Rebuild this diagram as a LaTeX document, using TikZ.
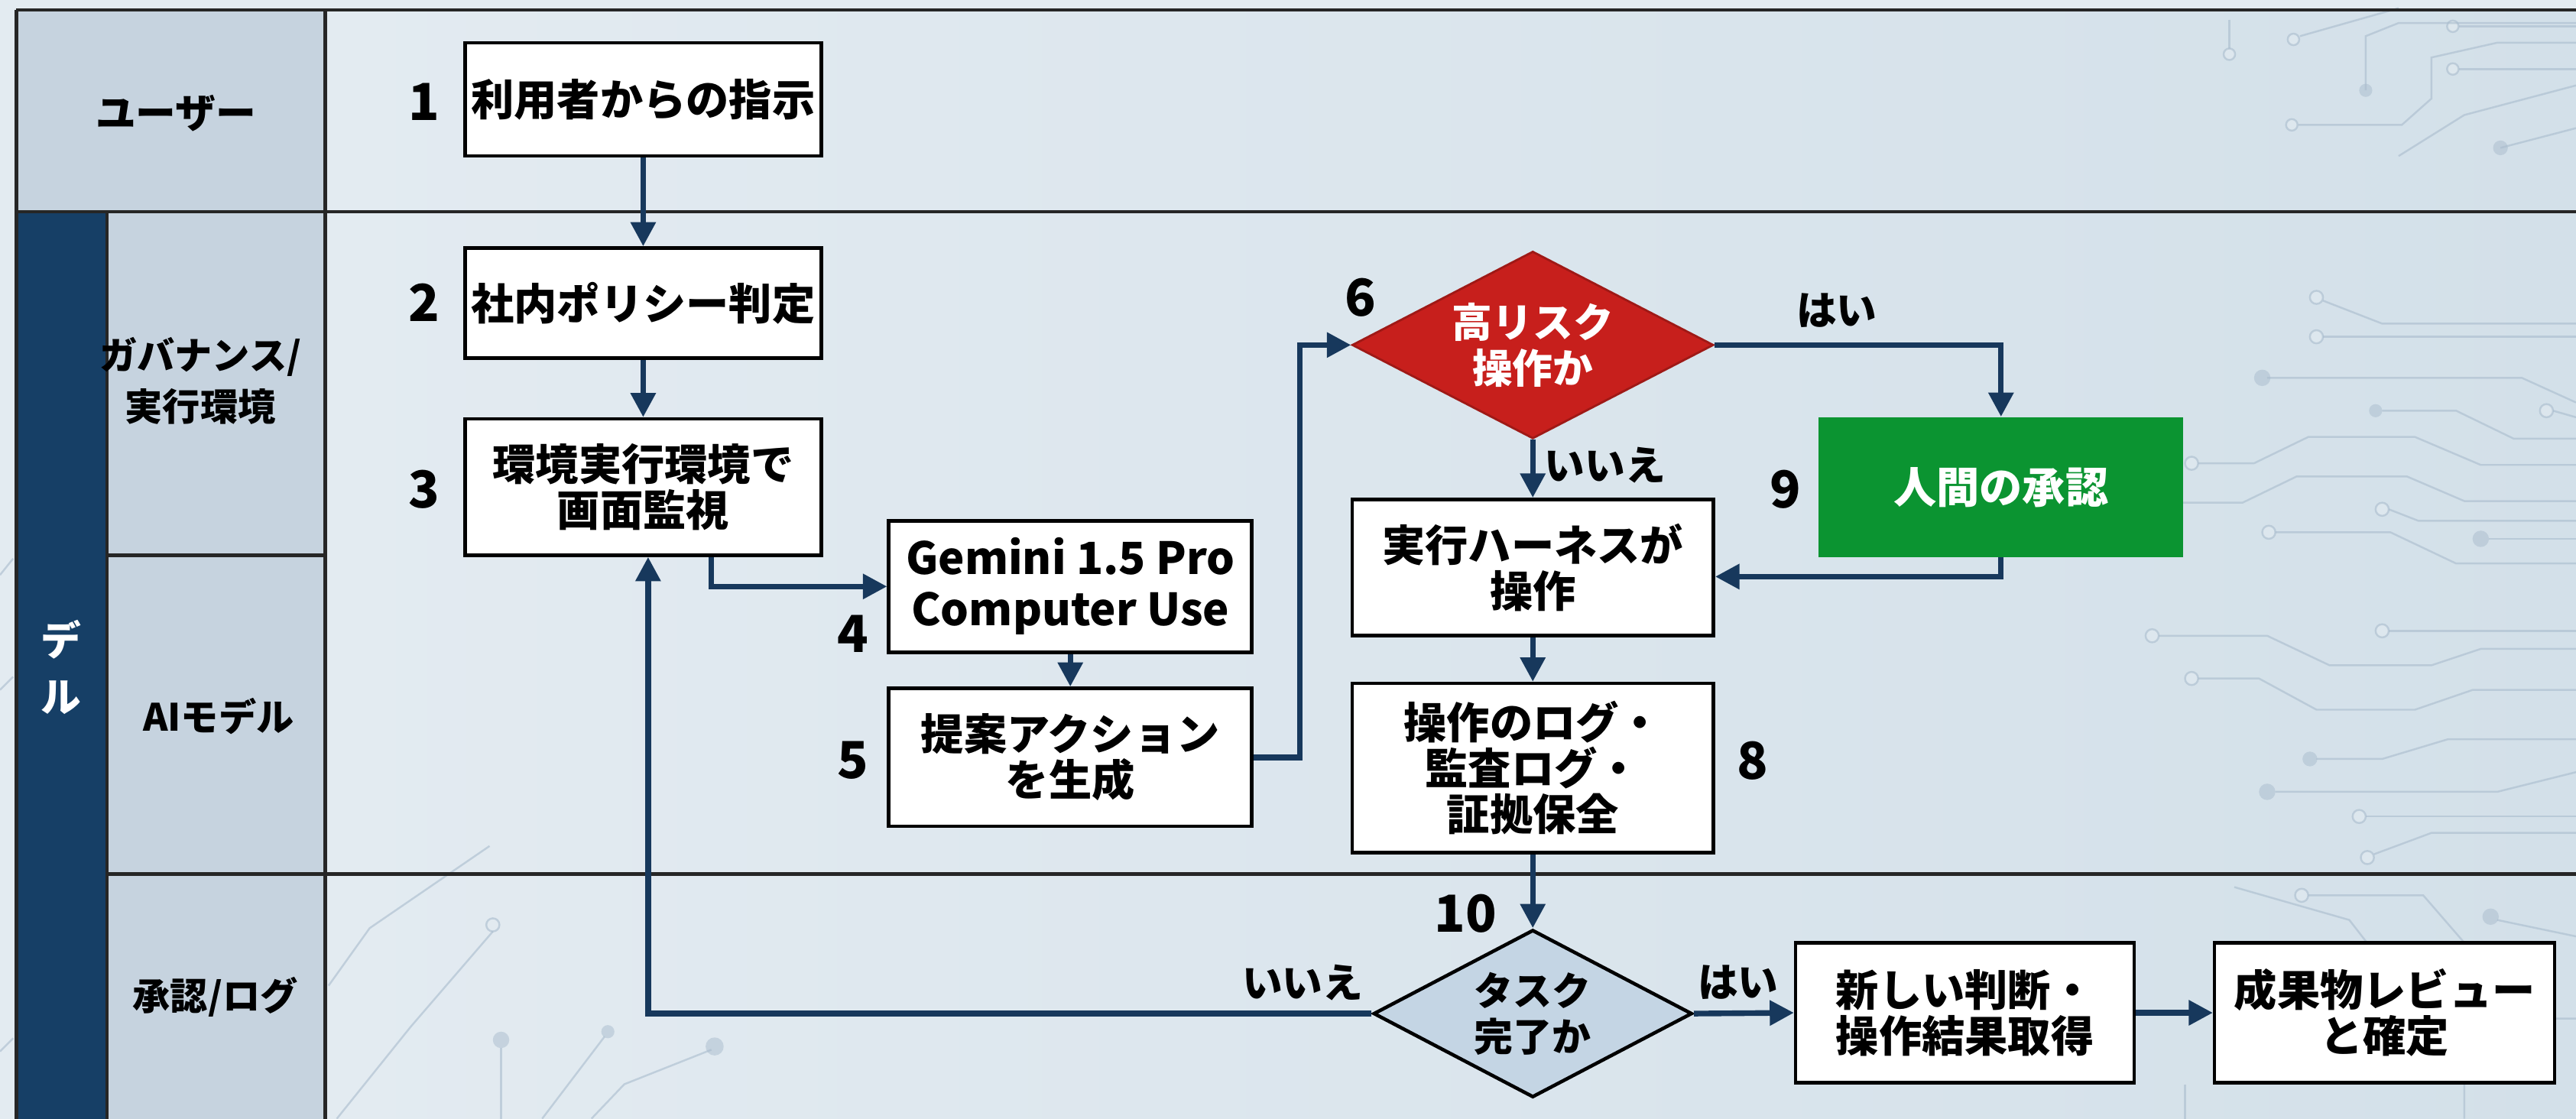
\documentclass[tikz,border=0pt]{standalone}
\usepackage{fontspec}
\setmainfont{Noto Sans CJK JP}
\usetikzlibrary{shapes.geometric,arrows.meta,calc}
\definecolor{navy}{HTML}{17385C}
\definecolor{barblue}{HTML}{163F66}
\definecolor{hdrgray}{HTML}{C6D3DF}
\definecolor{mainbg}{HTML}{E3EBF1}
\definecolor{mainbg2}{HTML}{D3E0E9}
\definecolor{riskred}{HTML}{C71F1C}
\definecolor{okgreen}{HTML}{0B9431}
\definecolor{qblue}{HTML}{C4D5E4}
\definecolor{trace}{HTML}{A9BCCD}
\tikzset{
  box/.style={draw=black, line width=1.3pt, fill=white, align=center, inner sep=2pt,
    font=\fontsize{16}{17}\selectfont\bfseries},
  riskdia/.style={shape=diamond, aspect=1.93, fill=riskred, draw=riskred!80!black, line width=0.8pt,
    inner sep=0pt, align=center, text=white, font=\fontsize{15}{17}\selectfont\bfseries},
  qdia/.style={shape=diamond, aspect=1.9, fill=qblue, draw=black, line width=1.3pt,
    inner sep=0pt, align=center, font=\fontsize{14.5}{17}\selectfont\bfseries},
  greenbox/.style={fill=okgreen, draw=none, align=center, text=white,
    font=\fontsize{16}{17}\selectfont\bfseries},
  num/.style={font=\fontsize{19}{19}\selectfont\bfseries, inner sep=0pt},
  lanelbl/.style={font=\fontsize{14}{19}\selectfont\bfseries, align=center, inner sep=0pt},
  yn/.style={font=\fontsize{15}{15}\selectfont\bfseries, inner sep=0pt},
  arr/.style={draw=navy, line width=2.1pt, -{Triangle[length=9pt,width=9pt]}},
  frame/.style={draw=black!85, line width=1.2pt},
  tr/.style={draw=trace, line width=0.7pt, opacity=0.6},
  trc/.style={draw=trace, line width=0.7pt, opacity=0.6, fill=mainbg},
  trd/.style={fill=trace, opacity=0.5, draw=none}
}
\begin{document}
\begin{tikzpicture}[x=0.02149cm,y=-0.02149cm]
\useasboundingbox (0,0) rectangle (1568,681);
% backgrounds
\fill[mainbg] (0,0) rectangle (1568,681);
\shade[left color=mainbg, right color=mainbg2] (198,6) rectangle (1568,681);
\fill[hdrgray] (10,6) rectangle (198,129);
\fill[hdrgray] (65,129) rectangle (198,681);
\fill[barblue] (10,129) rectangle (65,681);
% circuit traces (decoration)
\draw[tr] (1357,12) -- (1357,30); \draw[trc] (1357,33) circle (3.5);
\draw[tr] (1400,22) -- (1460,5); \draw[trc] (1396,24) circle (3.5);
\draw[tr] (1497,16) -- (1568,16); \draw[trc] (1493,16) circle (3.5);
\draw[tr] (1497,42) -- (1568,42); \draw[trc] (1493,42) circle (3.5);
\draw[tr] (1440,55) -- (1440,22) -- (1460,14) -- (1568,14);
\draw[tr] (1399,76) -- (1462,76) -- (1480,60) -- (1480,35) -- (1520,26) -- (1568,26); \draw[trc] (1395,76) circle (3.5);
\draw[tr] (1460,95) -- (1500,70) -- (1568,52);
\fill[trd] (1440,55) circle (4); \fill[trd] (1522,90) circle (4.5);
\draw[tr] (1522,90) -- (1568,78);
% right side of middle lanes
\draw[tr] (1414,183) -- (1450,197) -- (1568,197); \draw[trc] (1410,181) circle (4);
\draw[tr] (1414,205) -- (1568,205); \draw[trc] (1410,205) circle (4);
\draw[tr] (1380,230) -- (1535,230) -- (1568,245); \fill[trd] (1377,230) circle (5);
\draw[tr] (1450,250) -- (1495,250) -- (1530,267) -- (1568,267); \fill[trd] (1446,250) circle (4);
\draw[tr] (1554,250) -- (1568,254); \draw[trc] (1550,250) circle (4);
\draw[tr] (1338,282) -- (1372,282) -- (1405,266) -- (1470,266) -- (1510,283) -- (1568,283); \draw[trc] (1334,282) circle (4);
\draw[tr] (1314,306) -- (1365,306) -- (1398,290) -- (1465,290) -- (1500,305) -- (1568,305); \draw[trc] (1310,306) circle (4);
\draw[tr] (1454,310) -- (1472,317) -- (1568,317); \draw[trc] (1450,310) circle (4);
\draw[tr] (1385,324) -- (1455,324) -- (1495,343) -- (1568,343); \draw[trc] (1381,324) circle (4);
\fill[trd] (1510,328) circle (5); \draw[tr] (1515,328) -- (1568,328);
\draw[tr] (1314,387) -- (1380,387) -- (1418,405) -- (1480,405) -- (1510,395) -- (1568,395); \draw[trc] (1310,387) circle (4);
\draw[tr] (1338,413) -- (1375,413) -- (1410,432) -- (1470,432) -- (1505,420) -- (1568,420); \draw[trc] (1334,413) circle (4);
\draw[tr] (1454,384) -- (1568,384); \draw[trc] (1450,384) circle (4);
\draw[tr] (1410,462) -- (1450,462) -- (1490,450) -- (1568,450); \fill[trd] (1406,462) circle (4.5);
\draw[tr] (1385,482) -- (1520,482) -- (1568,470); \fill[trd] (1380,482) circle (5);
\draw[tr] (1440,497) -- (1568,497); \draw[trc] (1436,497) circle (4);
\draw[tr] (1445,520) -- (1480,507) -- (1568,507); \draw[trc] (1441,522) circle (4);
% bottom lane right
\draw[tr] (1360,540) -- (1430,560) -- (1500,650) -- (1500,681);
\draw[tr] (1405,545) -- (1475,545) -- (1540,620) -- (1568,620);
\draw[trc] (1401,545) circle (4);
\draw[tr] (1520,560) -- (1568,570); \fill[trd] (1516,558) circle (5);
\draw[tr] (1330,660) -- (1330,681);
% bottom lane left of main
\draw[tr] (200,600) -- (225,565) -- (298,515); \draw[trc] (300,563) circle (4);
\draw[tr] (300,567) -- (250,625) -- (205,681);
\draw[tr] (305,638) -- (305,681); \fill[trd] (305,633) circle (5);
\draw[tr] (368,631) -- (330,681); \fill[trd] (370,628) circle (4);
\draw[tr] (433,639) -- (380,660) -- (360,681); \fill[trd] (435,637) circle (5.5);
% left edge traces
\draw[tr] (0,350) -- (8,340); \draw[tr] (0,420) -- (8,412);
\draw[tr] (0,640) -- (8,632);
% frame lines
\draw[frame] (10,6) -- (1568,6);
\draw[frame] (10,6) -- (10,681);
\draw[frame] (198,6) -- (198,681);
\draw[frame] (65,129) -- (65,681);
\draw[frame] (10,129) -- (1568,129);
\draw[frame] (65,338) -- (198,338);
\draw[frame] (65,532) -- (1568,532);
% lane labels
\node[lanelbl, font=\fontsize{15}{19}\selectfont\bfseries] (lu) at (107,69) {ユーザー};
\node[lanelbl] (lg) at (122,232) {ガバナンス/\\実行環境};
\node[lanelbl] (la) at (133,436) {AIモデル};
\node[lanelbl] (ll) at (131,607) {承認/ログ};
\node[lanelbl, text=white, font=\fontsize{15}{21}\selectfont\bfseries] (ld) at (37,406) {デ\\ル};
% nodes
\node[box, minimum width=217*0.02149cm, minimum height=69*0.02149cm] (n1) at (391.5,60.5) {利用者からの指示};
\node[box, minimum width=217*0.02149cm, minimum height=67*0.02149cm] (n2) at (391.5,184.5) {社内ポリシー判定};
\node[box, minimum width=217*0.02149cm, minimum height=83*0.02149cm] (n3) at (391.5,296.5) {環境実行環境で\\画面監視};
\node[box, minimum width=221*0.02149cm, minimum height=80*0.02149cm, font=\fontsize{16.5}{19}\selectfont\bfseries] (n4) at (651.5,357) {Gemini 1.5 Pro\\Computer Use};
\node[box, minimum width=221*0.02149cm, minimum height=84*0.02149cm] (n5) at (651.5,461) {提案アクション\\を生成};
\node[riskdia, minimum width=220*0.02149cm, minimum height=114*0.02149cm] (n6) at (933,210) {高リスク\\操作か};
\node[box, minimum width=220*0.02149cm, minimum height=83*0.02149cm] (n7) at (933,345.5) {実行ハーネスが\\操作};
\node[box, minimum width=220*0.02149cm, minimum height=103*0.02149cm] (n8) at (933,467.5) {操作のログ・\\監査ログ・\\証拠保全};
\node[greenbox, minimum width=222*0.02149cm, minimum height=85*0.02149cm] (n9) at (1218,296.5) {人間の承認};
\node[qdia, minimum width=194*0.02149cm, minimum height=102*0.02149cm] (n10) at (933,617) {タスク\\完了か};
\node[box, minimum width=206*0.02149cm, minimum height=85*0.02149cm] (n11) at (1196,616.5) {新しい判断・\\操作結果取得};
\node[box, minimum width=207*0.02149cm, minimum height=85*0.02149cm] (n12) at (1451.5,616.5) {成果物レビュー\\と確定};
% numbers
\node[num] (k1) at (258,62) {1};
\node[num] (k2) at (258,184) {2};
\node[num] (k3) at (258,298) {3};
\node[num] (k4) at (519,386) {4};
\node[num] (k5) at (519,463) {5};
\node[num] (k6) at (828,181) {6};
\node[num] (k8) at (1067,463) {8};
\node[num] (k9) at (1087,298) {9};
\node[num] (k10) at (892,556) {10};
% connectors
\draw[arr] (n1) -- (n2);
\draw[arr] (n2) -- (n3);
\draw[arr] ($(n3.south)+(41.5,0)$) |- (n4.west);
\draw[arr] (n4) -- (n5);
\draw[arr] (n5.east) -- ++(28,0) |- (n6.west);
\draw[arr] (n6.east) -| (n9.north);
\draw[arr] (n6.south) -- (n7.north);
\draw[arr] (n9.south) |- ($(n7.east)+(0,5.5)$);
\draw[arr] (n7) -- (n8);
\draw[arr] (n8.south) -- (n10.north);
\draw[arr] (n10.west) -| ($(n3.south)+(3,0)$);
\draw[arr] (n10.east) -- (n11.west);
\draw[arr] (n11.east) -- (n12.west);
% yes/no labels
\node[yn] (y1) at (1118,189) {はい};
\node[yn] (no1) at (977,283) {いいえ};
\node[yn] (no2) at (793,598) {いいえ};
\node[yn] (y2) at (1058,598) {はい};
\end{tikzpicture}
\end{document}
